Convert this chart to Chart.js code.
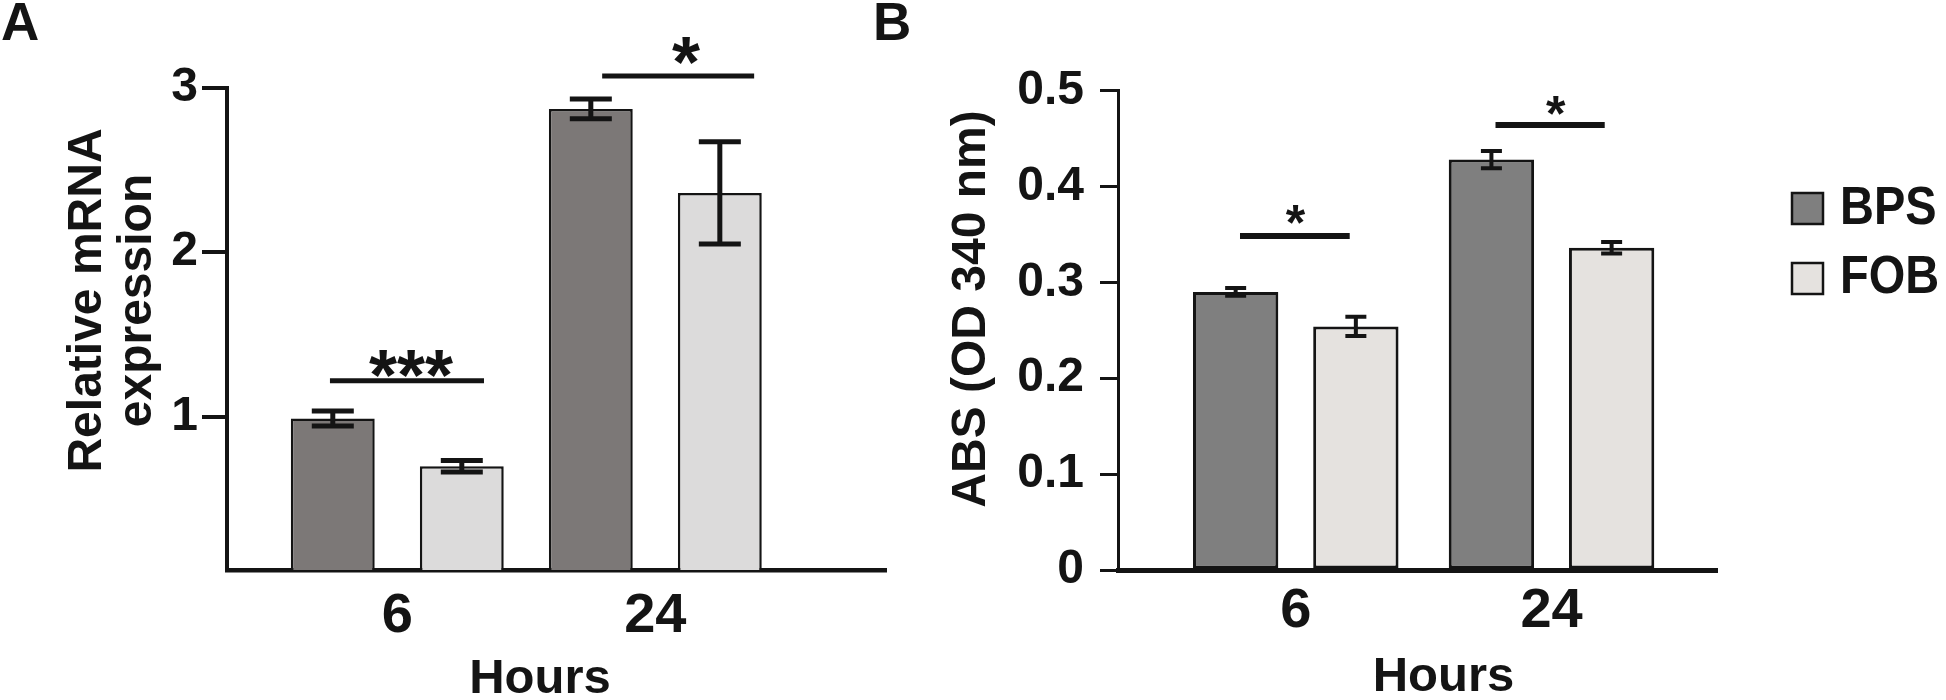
<!DOCTYPE html>
<html><head><meta charset="utf-8">
<script src="https://cdn.jsdelivr.net/npm/chart.js@4.4.1/dist/chart.umd.min.js"></script>
<style>
html,body{margin:0;padding:0;background:#fff;width:1946px;height:700px;overflow:hidden}
canvas{position:absolute;top:0}
#cA{left:0}
#cB{left:860px}
</style></head><body>
<canvas id="cA" width="890" height="700"></canvas>
<canvas id="cB" width="1086" height="700"></canvas>
<script>
// ---------- data ----------
const hours = ['6', '24'];
const seriesNames = ['BPS', 'FOB'];
// Panel A: relative mRNA expression
const mrnaBPS = [0.99, 2.87];
const mrnaBPSErr = [0.045, 0.06];
const mrnaFOB = [0.70, 2.36];
const mrnaFOBErr = [0.035, 0.31];
const mrnaTicks = [1, 2, 3];
// Panel B: ABS (OD 340 nm)
const absBPS = [0.290, 0.428];
const absBPSErr = [0.004, 0.009];
const absFOB = [0.254, 0.336];
const absFOBErr = [0.010, 0.006];
const absTicks = [0, 0.1, 0.2, 0.3, 0.4, 0.5];
// significance labels
const sigA = ['***', '*'];
const sigB = ['*', '*'];
// titles
const yTitleA = ['Relative mRNA', 'expression'];
const yTitleB = 'ABS (OD 340 nm)';
const xTitle = 'Hours';

// ---------- styling ----------
const FONT = "'Liberation Sans', Arial, Helvetica, sans-serif";
const INK = '#141414';
const toPoints = vals => vals.map((v, i) => ({ x: i, y: v }));

const errorBarPlugin = {
  id: 'errorBars',
  afterDatasetsDraw(chart, args, opts) {
    const ctx = chart.ctx, ys = chart.scales.y;
    chart.data.datasets.forEach((ds, di) => {
      const meta = chart.getDatasetMeta(di);
      meta.data.forEach((bar, i) => {
        const v = ds.data[i].y, e = ds.errors[i];
        const top = ys.getPixelForValue(v + e), bot = ys.getPixelForValue(v - e);
        ctx.save();
        ctx.strokeStyle = INK; ctx.lineWidth = opts.width; ctx.lineCap = 'butt';
        ctx.beginPath();
        ctx.moveTo(bar.x, top); ctx.lineTo(bar.x, bot);
        ctx.moveTo(bar.x - opts.cap, top); ctx.lineTo(bar.x + opts.cap, top);
        ctx.moveTo(bar.x - opts.cap, bot); ctx.lineTo(bar.x + opts.cap, bot);
        ctx.stroke();
        ctx.restore();
      });
    });
  }
};

const signifPlugin = {
  id: 'signif',
  afterDraw(chart, args, opts) {
    const ctx = chart.ctx, xs = chart.scales.x, ys = chart.scales.y;
    opts.items.forEach((it, k) => {
      ctx.save();
      ctx.strokeStyle = INK; ctx.lineWidth = opts.lineWidth; ctx.lineCap = 'butt';
      const yy = ys.getPixelForValue(it.y);
      ctx.beginPath();
      ctx.moveTo(xs.getPixelForValue(it.x0), yy);
      ctx.lineTo(xs.getPixelForValue(it.x1), yy);
      ctx.stroke();
      ctx.fillStyle = INK;
      ctx.font = 'bold ' + opts.fontSize + 'px ' + FONT;
      ctx.textAlign = 'center'; ctx.textBaseline = 'alphabetic';
      ctx.fillText(opts.labels[k], xs.getPixelForValue(it.tx), ys.getPixelForValue(it.ty) + 0.49 * opts.fontSize);
      ctx.restore();
    });
  }
};

const textPlugin = {
  id: 'panelText',
  afterDraw(chart, args, o) {
    const ctx = chart.ctx;
    ctx.save();
    ctx.fillStyle = INK;
    ctx.textBaseline = 'alphabetic';
    // panel letter
    ctx.font = 'bold 53px ' + FONT; ctx.textAlign = 'left';
    ctx.fillText(o.letter.text, o.letter.x, o.letter.y);
    // y title (rotated)
    ctx.font = 'bold ' + o.yTitle.size + 'px ' + FONT; ctx.textAlign = 'center';
    o.yTitle.lines.forEach((ln, i) => {
      ctx.save();
      ctx.translate(o.yTitle.x[i], o.yTitle.y);
      ctx.rotate(-Math.PI / 2);
      ctx.fillText(ln, 0, 0);
      ctx.restore();
    });
    // x title
    ctx.font = 'bold 49px ' + FONT; ctx.textAlign = 'center';
    ctx.fillText(o.xTitle.text, o.xTitle.x, o.xTitle.y);
    // legend
    if (o.legend) {
      chart.data.datasets.forEach((ds, i) => {
        const top = o.legend.tops[i];
        ctx.fillStyle = ds.backgroundColor;
        ctx.fillRect(o.legend.x, top, o.legend.box, o.legend.box);
        ctx.strokeStyle = INK; ctx.lineWidth = 2.5;
        ctx.strokeRect(o.legend.x, top, o.legend.box, o.legend.box);
        ctx.fillStyle = INK;
        ctx.font = 'bold 54px ' + FONT; ctx.textAlign = 'left';
        ctx.save();
        ctx.translate(o.legend.tx, o.legend.baselines[i]);
        ctx.scale(0.87, 1);
        ctx.fillText(ds.label, 0, 0);
        ctx.restore();
      });
    }
    ctx.restore();
  }
};

function makeChart(canvas, cfg) {
  return new Chart(canvas, {
    type: 'bar',
    data: {
      datasets: [
        { label: seriesNames[0], data: toPoints(cfg.bps), errors: cfg.bpsErr,
          backgroundColor: cfg.colors[0], borderColor: INK, borderWidth: cfg.barBorder,
          borderSkipped: false, categoryPercentage: cfg.catPct, barPercentage: cfg.barPct },
        { label: seriesNames[1], data: toPoints(cfg.fob), errors: cfg.fobErr,
          backgroundColor: cfg.colors[1], borderColor: INK, borderWidth: cfg.barBorder,
          borderSkipped: false, categoryPercentage: cfg.catPct, barPercentage: cfg.barPct }
      ]
    },
    options: {
      responsive: false, animation: false, events: [],
      layout: { padding: cfg.padding },
      scales: {
        x: {
          type: 'linear', min: cfg.xRange[0], max: cfg.xRange[1], offset: false,
          afterBuildTicks: s => { s.ticks = hours.map((h, i) => ({ value: i })); },
          ticks: { font: { family: FONT, size: 56, weight: 'bold' }, color: INK, padding: cfg.xTickPad,
                   autoSkip: false, maxRotation: 0, callback: v => hours[v] },
          grid: { display: true, drawOnChartArea: false, drawTicks: false },
          border: { display: true, width: cfg.xBorder, color: INK },
          afterFit: s => { s.height = 130; s.paddingLeft = 0; s.paddingRight = 0; }
        },
        y: {
          type: 'linear', min: cfg.yRange[0], max: cfg.yRange[1],
          afterBuildTicks: s => { s.ticks = cfg.yTicks.map(v => ({ value: v })); },
          ticks: { font: { family: FONT, size: 48, weight: 'bold' }, color: INK, padding: cfg.yTickPad,
                   callback: cfg.yFmt },
          grid: { display: true, drawOnChartArea: false, drawTicks: true, tickLength: cfg.tickLen,
                  lineWidth: cfg.tickWidth, color: INK },
          border: { display: true, width: cfg.yBorder, color: INK },
          afterFit: s => { s.width = cfg.yWidth; s.paddingTop = 0; s.paddingBottom = 0; }
        }
      },
      plugins: {
        legend: { display: false },
        tooltip: { enabled: false },
        errorBars: cfg.err,
        signif: cfg.signif,
        panelText: cfg.text
      }
    },
    plugins: [errorBarPlugin, signifPlugin, textPlugin]
  });
}

makeChart(document.getElementById('cA'), {
  bps: mrnaBPS, bpsErr: mrnaBPSErr, fob: mrnaFOB, fobErr: mrnaFOBErr,
  colors: ['#7c7877', '#dcdbdb'], barBorder: 2.5, catPct: 1.0, barPct: 0.65,
  padding: { top: 87.5, left: 0, right: 4, bottom: 0 },
  xRange: [-0.66, 1.894], yRange: [0.07, 3], yTicks: mrnaTicks, yFmt: v => String(v),
  xTickPad: 13, yTickPad: 4, tickLen: 25, tickWidth: 4, xBorder: 4.5, yBorder: 4, yWidth: 227,
  err: { width: 5, cap: 21 },
  signif: { lineWidth: 5, fontSize: 72, labels: sigA, items: [
    { x0: -0.261, x1: 0.336, y: 1.219, tx: 0.053, ty: 1.316 },
    { x0: 0.794, x1: 1.383, y: 3.07, tx: 1.119, ty: 3.215 } ] },
  text: {
    letter: { text: 'A', x: 1, y: 40 },
    yTitle: { lines: yTitleA, x: [101, 151], y: 300.5, size: 48 },
    xTitle: { text: xTitle, x: 540, y: 693 }
  }
});

makeChart(document.getElementById('cB'), {
  bps: absBPS, bpsErr: absBPSErr, fob: absFOB, fobErr: absFOBErr,
  colors: ['#7f7f7f', '#e5e2df'], barBorder: 3, catPct: 0.94, barPct: 0.71,
  padding: { top: 90.5, left: 0, right: 229, bottom: 0 },
  xRange: [-0.695, 1.647], yRange: [0, 0.5], yTicks: absTicks,
  yFmt: v => (v === 0 ? '0' : v.toFixed(1)),
  xTickPad: 8, yTickPad: 16, tickLen: 18, tickWidth: 3, xBorder: 5, yBorder: 3, yWidth: 258,
  err: { width: 4, cap: 10.5 },
  signif: { lineWidth: 6, fontSize: 50, labels: sigB, items: [
    { x0: -0.218, x1: 0.211, y: 0.3483, tx: -0.001, ty: 0.3697 },
    { x0: 0.781, x1: 1.208, y: 0.464, tx: 1.016, ty: 0.4833 } ] },
  text: {
    letter: { text: 'B', x: 13, y: 40 },
    yTitle: { lines: [yTitleB], x: [125], y: 309, size: 48 },
    xTitle: { text: xTitle, x: 583.5, y: 691 },
    legend: { x: 932, tops: [193, 263], box: 31, tx: 980, baselines: [224, 293] }
  }
});
</script>
</body></html>
